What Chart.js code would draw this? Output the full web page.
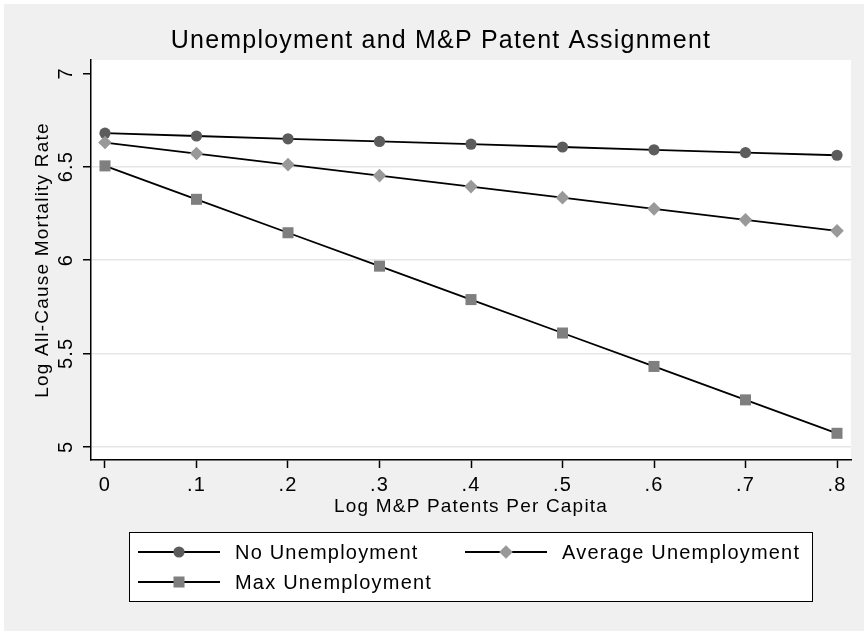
<!DOCTYPE html>
<html>
<head>
<meta charset="utf-8">
<title>Unemployment and M&amp;P Patent Assignment</title>
<script src="https://cdn.jsdelivr.net/npm/chart.js@4.4.1/dist/chart.umd.min.js"></script>
<style>
  html, body { margin: 0; padding: 0; background: #ffffff; }
  #wrap { width: 864px; height: 631px; }
  canvas { display: block; }
</style>
</head>
<body>
<div id="wrap"><canvas id="chart" width="864" height="631"></canvas></div>
<script>
// Log M&P patents per capita (x) and predicted log all-cause mortality (y)
const xValues = [0, 0.1, 0.2, 0.3, 0.4, 0.5, 0.6, 0.7, 0.8];
const xTickLabels = ['0', '.1', '.2', '.3', '.4', '.5', '.6', '.7', '.8'];
const yTicks = [5, 5.5, 6, 6.5, 7];
const yTickLabels = ['5', '5.5', '6', '6.5', '7'];

const noUnemployment = [6.679, 6.664, 6.649, 6.635, 6.620, 6.605, 6.590, 6.575, 6.561];
const averageUnemployment = [6.629, 6.570, 6.511, 6.452, 6.393, 6.334, 6.274, 6.215, 6.156];
const maxUnemployment = [6.504, 6.325, 6.146, 5.967, 5.788, 5.609, 5.430, 5.251, 5.072];

const seriesNames = ['No Unemployment', 'Average Unemployment', 'Max Unemployment'];

const FONT_FAMILY = '"Liberation Sans", Arial, Helvetica, sans-serif';
const PAGE_BG = '#f0f0f0';
const TEXT_SPACING = '1.2px';

function toPoints(values) {
  return values.map((y, i) => ({ x: xValues[i], y: y }));
}

const markerStyles = [
  { pointStyle: 'circle', radius: 5.6, color: '#5c5c5c' },
  { pointStyle: 'rectRot', radius: 6.8, color: '#999999' },
  { pointStyle: 'rect', radius: 7.8, color: '#7f7f7f' }
];

const seriesValues = [noUnemployment, averageUnemployment, maxUnemployment];

const datasets = seriesValues.map((vals, i) => ({
  label: seriesNames[i],
  data: toPoints(vals),
  borderColor: '#000000',
  borderWidth: 1.8,
  tension: 0,
  fill: false,
  pointStyle: markerStyles[i].pointStyle,
  pointRadius: markerStyles[i].radius,
  pointHoverRadius: markerStyles[i].radius,
  pointBackgroundColor: markerStyles[i].color,
  pointBorderColor: markerStyles[i].color,
  pointBorderWidth: 0,
  order: seriesValues.length - i
}));

// Page background, white plot region, and text spacing
const backdrop = {
  id: 'backdrop',
  beforeDraw(chart) {
    const { ctx, width, height, chartArea } = chart;
    ctx.save();
    ctx.fillStyle = '#ffffff';
    ctx.fillRect(0, 0, width, height);
    ctx.fillStyle = PAGE_BG;
    ctx.fillRect(4, 4, width - 4, height - 4);
    ctx.fillStyle = '#ffffff';
    ctx.fillRect(chartArea.left, chartArea.top, chartArea.right - chartArea.left, chartArea.bottom - chartArea.top);
    ctx.restore();
    ctx.letterSpacing = TEXT_SPACING;
  }
};

// Boxed legend below the axis: line segment with the series marker, then its name
const boxLegend = {
  id: 'boxLegend',
  afterDraw(chart) {
    const ctx = chart.ctx;
    const box = { x: 129.5, y: 532.5, w: 683, h: 69 };
    const slots = [
      { x: 138, y: 552 },
      { x: 465, y: 552 },
      { x: 138, y: 582 }
    ];
    const lineLen = 82;
    ctx.save();
    ctx.letterSpacing = TEXT_SPACING;
    ctx.fillStyle = '#ffffff';
    ctx.fillRect(box.x, box.y, box.w, box.h);
    ctx.strokeStyle = '#000000';
    ctx.lineWidth = 1;
    ctx.strokeRect(box.x, box.y, box.w, box.h);

    chart.data.datasets.forEach((ds, i) => {
      const s = slots[i];
      ctx.beginPath();
      ctx.moveTo(s.x, s.y);
      ctx.lineTo(s.x + lineLen, s.y);
      ctx.strokeStyle = '#000000';
      ctx.lineWidth = 1.8;
      ctx.stroke();

      const cx = s.x + lineLen / 2;
      ctx.fillStyle = ds.pointBackgroundColor;
      ctx.strokeStyle = ds.pointBackgroundColor;
      if (Chart.helpers && Chart.helpers.drawPoint) {
        Chart.helpers.drawPoint(ctx, {
          pointStyle: ds.pointStyle,
          radius: ds.pointRadius,
          rotation: 0,
          borderWidth: 0
        }, cx, s.y);
      } else {
        ctx.beginPath();
        ctx.arc(cx, s.y, ds.pointRadius, 0, Math.PI * 2);
        ctx.fill();
      }

      ctx.fillStyle = '#000000';
      ctx.font = '20px ' + FONT_FAMILY;
      ctx.textBaseline = 'middle';
      ctx.textAlign = 'left';
      ctx.fillText(ds.label, s.x + lineLen + 15, s.y + 1);
    });
    ctx.restore();
  }
};

Chart.defaults.font.family = FONT_FAMILY;
Chart.defaults.color = '#000000';

new Chart(document.getElementById('chart'), {
  type: 'line',
  data: { datasets: datasets },
  options: {
    responsive: false,
    devicePixelRatio: 1,
    animation: false,
    events: [],
    layout: { padding: { left: 31, right: 13, top: 0, bottom: 110 } },
    plugins: {
      legend: { display: false },
      tooltip: { enabled: false },
      title: {
        display: true,
        text: 'Unemployment and M&P Patent Assignment',
        color: '#000000',
        font: { size: 25, weight: 'normal', family: FONT_FAMILY },
        padding: { top: 26, bottom: 4 }
      }
    },
    scales: {
      x: {
        type: 'linear',
        min: -0.0153,
        max: 0.8153,
        afterFit(scale) { scale.height = 61; },
        afterBuildTicks(scale) { scale.ticks = xValues.map(v => ({ value: v })); },
        border: { display: true, color: '#000000', width: 1.5 },
        grid: {
          drawOnChartArea: false,
          drawTicks: true,
          tickLength: 8,
          tickColor: '#000000',
          tickWidth: 1.5,
          color: '#000000'
        },
        ticks: {
          autoSkip: false,
          maxRotation: 0,
          minRotation: 0,
          padding: 5,
          color: '#000000',
          font: { size: 20 },
          callback: (value, index) => xTickLabels[index]
        },
        title: {
          display: true,
          text: 'Log M&P Patents Per Capita',
          color: '#000000',
          font: { size: 19 },
          padding: { top: 0, bottom: 3 }
        }
      },
      y: {
        type: 'linear',
        min: 4.929,
        max: 7.071,
        afterFit(scale) { scale.width = 60; },
        afterBuildTicks(scale) { scale.ticks = yTicks.map(v => ({ value: v })); },
        border: { display: true, color: '#000000', width: 1.5 },
        grid: {
          drawOnChartArea: true,
          drawTicks: true,
          tickLength: 8,
          tickColor: '#000000',
          tickWidth: 1.5,
          lineWidth: 1.5,
          color: (c) => (c.tick && c.tick.value === 7 ? 'rgba(0,0,0,0)' : '#e6e6e6')
        },
        ticks: {
          minRotation: 90,
          maxRotation: 90,
          crossAlign: 'center',
          padding: 3,
          color: '#000000',
          font: { size: 20 },
          callback: (value, index) => yTickLabels[index]
        },
        title: {
          display: true,
          text: 'Log All-Cause Mortality Rate',
          color: '#000000',
          font: { size: 19 },
          padding: { top: 0, bottom: 0 }
        }
      }
    }
  },
  plugins: [backdrop, boxLegend]
});
</script>
</body>
</html>
